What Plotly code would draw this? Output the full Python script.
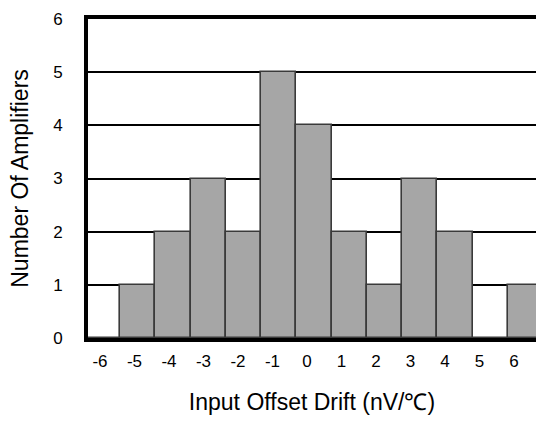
import plotly.graph_objects as go

drift = [-6, -5, -4, -3, -2, -1, 0, 1, 2, 3, 4, 5, 6]
counts = [0, 1, 2, 3, 2, 5, 4, 2, 1, 3, 2, 0, 1]
y_ticks = [0, 1, 2, 3, 4, 5, 6]

fig = go.Figure()
fig.add_trace(go.Bar(
    x=drift, y=counts, width=1.0,
    marker=dict(color="#a6a6a6", line=dict(color="#3a3a3a", width=1.6)),
    showlegend=False, hoverinfo="x+y",
))
# invisible companion trace that carries the tick-label axis
fig.add_trace(go.Scatter(
    x=drift, y=counts, xaxis="x2", yaxis="y", mode="none",
    showlegend=False, hoverinfo="skip",
))

font = "Liberation Sans, Arial, sans-serif"
fig.update_layout(
    width=536, height=422,
    margin=dict(l=88, r=0, t=19, b=84),
    paper_bgcolor="white", plot_bgcolor="white",
    font=dict(family=font, color="black", size=17),
    bargap=0,
    xaxis=dict(
        range=[-6.41, 6.30], showticklabels=False,
        showgrid=False, zeroline=False, automargin=False,
        showline=True, linewidth=4, linecolor="black", mirror=True,
        ticks="",
    ),
    xaxis2=dict(
        overlaying="x", side="bottom", anchor="y", range=[-6.348, 6.638],
        tickmode="array", tickvals=drift, ticktext=[str(v) for v in drift],
        showgrid=False, zeroline=False, automargin=False, showline=False,
        ticks="", ticklabelstandoff=11, ticklabeloverflow="allow",
        tickfont=dict(size=17, family=font),
        title=dict(text="Input Offset Drift (nV/℃)\u00a0\u00a0", font=dict(size=23, family=font), standoff=23),
    ),
    yaxis=dict(
        range=[0, 6], tickmode="array", tickvals=y_ticks,
        showgrid=True, gridcolor="black", gridwidth=1.5, zeroline=False, automargin=False,
        showline=True, linewidth=4, linecolor="black", mirror=False,
        ticks="", ticklabelstandoff=18,
        tickfont=dict(size=17, family=font),
        title=dict(text="Number Of Amplifiers", font=dict(size=23, family=font), standoff=19),
    ),
)

fig.write_html("out.html", config={"displayModeBar": False},
               post_script="document.body.style.margin='0';")
